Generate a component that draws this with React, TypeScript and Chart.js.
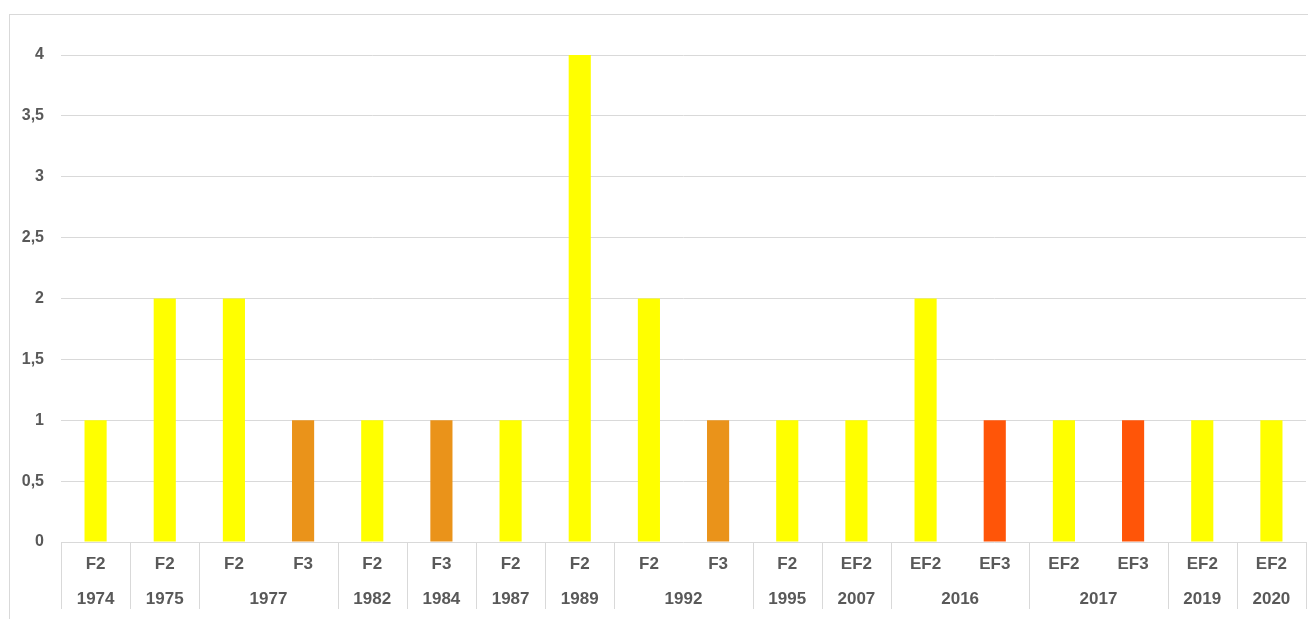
import React, { useEffect, useRef } from "react";
import { Chart, registerables } from "chart.js";

Chart.register(...registerables);

const intensities = ["F2", "F2", "F2", "F3", "F2", "F3", "F2", "F2", "F2", "F3", "F2", "EF2", "EF2", "EF3", "EF2", "EF3", "EF2", "EF2"];
const years = ["1974", "1975", "1977", "1977", "1982", "1984", "1987", "1989", "1992", "1992", "1995", "2007", "2016", "2016", "2017", "2017", "2019", "2020"];
const counts = [1, 2, 2, 1, 1, 1, 1, 4, 2, 1, 1, 1, 2, 1, 1, 1, 1, 1];
const intensityColors: Record<string, string> = {
  F2: "#FFFF00",
  EF2: "#FFFF00",
  F3: "#EA931A",
  EF3: "#FF5508",
};

const GRID = "#d9d9d9";
const TEXT = "#595959";
const FONT = "'Liberation Sans', Arial, sans-serif";

const multiLevelAxis = {
  id: "multiLevelAxis",
  afterDraw(chart: any) {
    const ctx = chart.ctx;
    const x = chart.scales.x;
    const area = chart.chartArea;
    const n = intensities.length;
    const step = (x.getPixelForValue(1) - x.getPixelForValue(0));
    const edge = (i: number) => x.getPixelForValue(i) - step / 2;
    const top = area.bottom;
    const bottom = top + 67;
    ctx.save();
    ctx.strokeStyle = GRID;
    ctx.lineWidth = 1;
    // boundaries
    const drawV = (px: number) => {
      const p = Math.round(px) + 0.5;
      ctx.beginPath();
      ctx.moveTo(p, top);
      ctx.lineTo(p, bottom);
      ctx.stroke();
    };
    drawV(edge(0));
    for (let i = 1; i < n; i++) {
      if (years[i] !== years[i - 1]) drawV(edge(i));
    }
    drawV(edge(n));
    ctx.fillStyle = TEXT;
    ctx.font = `bold 17px ${FONT}`;
    ctx.textAlign = "center";
    ctx.textBaseline = "middle";
    for (let i = 0; i < n; i++) {
      ctx.fillText(intensities[i], x.getPixelForValue(i), top + 22);
    }
    let start = 0;
    for (let i = 1; i <= n; i++) {
      if (i === n || years[i] !== years[start]) {
        const cx = (edge(start) + edge(i)) / 2;
        ctx.fillText(years[start], cx, top + 57);
        start = i;
      }
    }
    ctx.restore();
  },
};

export default function App() {
  const ref = useRef<HTMLCanvasElement | null>(null);
  useEffect(() => {
    if (!ref.current) return;
    const labels = intensities.map((c, i) => `${c} ${years[i]}`);
    const chart = new Chart(ref.current, {
      type: "bar",
      data: {
        labels,
        datasets: [
          {
            data: counts,
            backgroundColor: intensities.map((c) => intensityColors[c]),
            borderWidth: 0,
            categoryPercentage: 1,
            barPercentage: 0.32,
          },
        ],
      },
      options: {
        animation: false,
        responsive: false,
        maintainAspectRatio: false,
        layout: { padding: { top: 55, right: 2, left: 0, bottom: 0 } },
        plugins: { legend: { display: false }, tooltip: { enabled: false } },
        scales: {
          x: {
            ticks: { display: false },
            grid: { display: false },
            border: { display: false },
            afterFit: (s: any) => {
              s.height = 77;
            },
          },
          y: {
            min: 0,
            max: 4,
            ticks: {
              stepSize: 0.5,
              padding: 17,
              color: TEXT,
              font: { family: FONT, size: 16, weight: "bold" },
              callback: (v: any) => String(v).replace(".", ","),
            },
            grid: { color: GRID, drawTicks: false, lineWidth: 1 },
            border: { display: false },
            afterFit: (s: any) => {
              s.width = 61;
            },
          },
        },
      },
      plugins: [multiLevelAxis],
    });
    return () => chart.destroy();
  }, []);
  return (
    <div style={{ position: "absolute", left: 0, top: 0, width: 1308, height: 619, overflow: "hidden", background: "#fff" }}>
      <div
        style={{
          position: "absolute",
          left: 9,
          top: 14,
          width: 1299,
          height: 605,
          borderTop: `1px solid ${GRID}`,
          borderLeft: `1px solid ${GRID}`,
          boxSizing: "border-box",
        }}
      />
      <canvas ref={ref} width={1308} height={619} style={{ position: "absolute", left: 0, top: 0 }} />
    </div>
  );
}
